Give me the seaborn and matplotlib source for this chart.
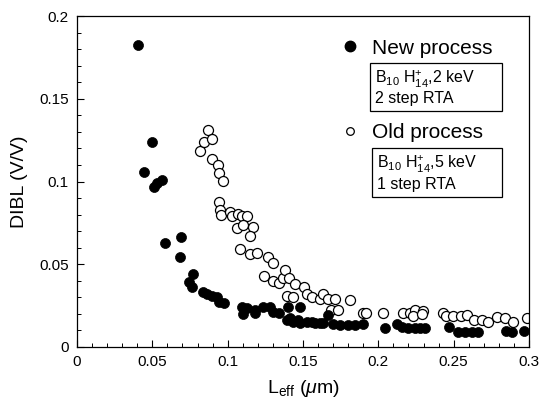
import matplotlib
matplotlib.use("Agg")
import matplotlib.pyplot as plt
from matplotlib.ticker import MultipleLocator, FuncFormatter
from matplotlib.lines import Line2D
from matplotlib.patches import Rectangle
import seaborn as sns
import pandas as pd

# ---- data ----
new_x = [0.0405, 0.0445, 0.0500, 0.0511, 0.0533, 0.0566, 0.0584, 0.0690, 0.0684,
         0.0772, 0.0745, 0.0765, 0.0834, 0.0861, 0.0894, 0.0927, 0.0945, 0.0976,
         0.1093, 0.1100, 0.1131, 0.1182, 0.1182, 0.1237, 0.1281, 0.1303, 0.1343,
         0.1403, 0.1481, 0.1392, 0.1414, 0.1436, 0.1469, 0.1481, 0.1525, 0.1558,
         0.1581, 0.1610, 0.1636, 0.1669, 0.1701, 0.1746, 0.1801, 0.1846, 0.1901,
         0.2044, 0.2122, 0.2155, 0.2199, 0.2243, 0.2277, 0.2310, 0.2471, 0.2531,
         0.2575, 0.2620, 0.2664, 0.2846, 0.2890, 0.2966]
new_y = [0.1827, 0.1056, 0.1237, 0.0965, 0.0993, 0.1009, 0.0627, 0.0663, 0.0542,
         0.0441, 0.0391, 0.0364, 0.0334, 0.0320, 0.0308, 0.0304, 0.0274, 0.0264,
         0.0240, 0.0198, 0.0234, 0.0224, 0.0207, 0.0240, 0.0240, 0.0214, 0.0204,
         0.0240, 0.0240, 0.0163, 0.0173, 0.0153, 0.0163, 0.0143, 0.0153, 0.0150,
         0.0147, 0.0145, 0.0143, 0.0193, 0.0139, 0.0133, 0.0133, 0.0133, 0.0139,
         0.0113, 0.0139, 0.0123, 0.0113, 0.0113, 0.0113, 0.0113, 0.0123, 0.0093,
         0.0093, 0.0093, 0.0093, 0.0096, 0.0093, 0.0096]

old_x = [0.0816, 0.0845, 0.0872, 0.0894, 0.0894, 0.0938, 0.0945, 0.0971, 0.0943,
         0.0949, 0.0954, 0.1016, 0.1027, 0.1071, 0.1093, 0.1126, 0.1060, 0.1104,
         0.1166, 0.1148, 0.1085, 0.1148, 0.1195, 0.1270, 0.1298, 0.1241, 0.1303,
         0.1343, 0.1365, 0.1378, 0.1409, 0.1447, 0.1505, 0.1525, 0.1392, 0.1436,
         0.1559, 0.1614, 0.1636, 0.1669, 0.1714, 0.1812, 0.1685, 0.1730, 0.1896,
         0.1918, 0.2034, 0.2166, 0.2210, 0.2243, 0.2232, 0.2299, 0.2290, 0.2432,
         0.2449, 0.2498, 0.2547, 0.2587, 0.2635, 0.2686, 0.2730, 0.2786, 0.2841,
         0.2896, 0.2985]
old_y = [0.1186, 0.1237, 0.1311, 0.1257, 0.1137, 0.1100, 0.1049, 0.1005, 0.0878,
         0.0828, 0.0798, 0.0818, 0.0792, 0.0804, 0.0792, 0.0792, 0.0722, 0.0740,
         0.0725, 0.0671, 0.0593, 0.0561, 0.0566, 0.0542, 0.0508, 0.0429, 0.0400,
         0.0389, 0.0415, 0.0465, 0.0415, 0.0378, 0.0362, 0.0319, 0.0311, 0.0304,
         0.0300, 0.0288, 0.0320, 0.0288, 0.0288, 0.0282, 0.0221, 0.0221, 0.0207,
         0.0207, 0.0203, 0.0207, 0.0207, 0.0224, 0.0187, 0.0219, 0.0200, 0.0207,
         0.0187, 0.0187, 0.0187, 0.0193, 0.0163, 0.0163, 0.0153, 0.0179, 0.0173,
         0.0153, 0.0173]

x_ticks = [0, 0.05, 0.1, 0.15, 0.2, 0.25, 0.3]
y_ticks = [0, 0.05, 0.1, 0.15, 0.2]
new_label = "New process"
old_label = "Old process"
new_box = ["B$_{10}$ H$_{14}^{+}$,2 keV", "2 step RTA"]
old_box = ["B$_{10}$ H$_{14}^{+}$,5 keV", "1 step RTA"]

# ---- style ----
sns.set_style("ticks")
plt.rcParams["font.family"] = ["Liberation Sans", "DejaVu Sans"]
plt.rcParams["mathtext.fontset"] = "custom"
plt.rcParams["mathtext.rm"] = "Liberation Sans"
plt.rcParams["mathtext.it"] = "Liberation Sans:italic"
plt.rcParams["mathtext.bf"] = "Liberation Sans:bold"
plt.rcParams["text.color"] = "black"
plt.rcParams["axes.labelcolor"] = "black"

W, H = 541, 403
fig = plt.figure(figsize=(W / 100, H / 100), dpi=100)
ax = fig.add_axes([77 / W, 1 - 347 / H, (529 - 77) / W, (347 - 16) / H])

df_old = pd.DataFrame({"x": old_x, "y": old_y})
df_new = pd.DataFrame({"x": new_x, "y": new_y})

sns.scatterplot(data=df_old, x="x", y="y", ax=ax, s=52, marker="o",
                facecolor="white", edgecolor="black", linewidth=0.9, zorder=2)
sns.scatterplot(data=df_new, x="x", y="y", ax=ax, s=52, marker="o",
                color="black", edgecolor="black", linewidth=0.5, zorder=3)

ax.set_xlim(0, 0.3)
ax.set_ylim(0, 0.2)
ax.set_xticks(x_ticks)
ax.set_yticks(y_ticks)
fmt = FuncFormatter(lambda v, p: "0" if abs(v) < 1e-12 else ("%g" % v))
ax.xaxis.set_major_formatter(fmt)
ax.yaxis.set_major_formatter(fmt)
ax.xaxis.set_minor_locator(MultipleLocator(0.01))
ax.yaxis.set_minor_locator(MultipleLocator(0.01))
ax.tick_params(which="both", direction="in", top=False, right=False,
               labelsize=11, colors="black", pad=6)
ax.tick_params(which="major", length=5, width=0.8)
ax.tick_params(which="minor", length=3, width=0.7)
for sp in ax.spines.values():
    sp.set_visible(True)
    sp.set_linewidth(0.9)
    sp.set_color("black")

ax.set_xlabel(r"L$_{\rm eff}$ ($\mu$m)", fontsize=14, labelpad=6, color="black")
ax.set_ylabel("DIBL (V/V)", fontsize=14, labelpad=8, color="black")

# ---- legends ----
h_new = Line2D([], [], marker="o", linestyle="none", markersize=7.5,
               markerfacecolor="black", markeredgecolor="black")
h_old = Line2D([], [], marker="o", linestyle="none", markersize=5.5,
               markerfacecolor="white", markeredgecolor="black", markeredgewidth=0.9)
leg1 = fig.legend(handles=[h_new], labels=[new_label], loc="center left",
                  bbox_to_anchor=(329 / W, 1 - 48 / H), frameon=False,
                  fontsize=15, handletextpad=0.55, handlelength=1.0, borderpad=0,
                  labelcolor="black")
leg2 = fig.legend(handles=[h_old], labels=[old_label], loc="center left",
                  bbox_to_anchor=(329 / W, 1 - 133 / H), frameon=False,
                  fontsize=15, handletextpad=0.55, handlelength=1.0, borderpad=0,
                  labelcolor="black")

def draw_box(x0, y0, x1, y1, lines, ys):
    fig.patches.append(Rectangle((x0 / W, 1 - y1 / H), (x1 - x0) / W, (y1 - y0) / H,
                                 transform=fig.transFigure, fill=False,
                                 edgecolor="black", linewidth=0.9))
    for t, yy in zip(lines, ys):
        fig.text((x0 + 5) / W, 1 - yy / H, t, fontsize=11.5, va="center", ha="left",
                 color="black")

draw_box(370, 63, 502, 111, new_box, [79, 99])
draw_box(372, 148, 502, 197, old_box, [164, 185])

fig.savefig("out.png", dpi=100, facecolor="white")
